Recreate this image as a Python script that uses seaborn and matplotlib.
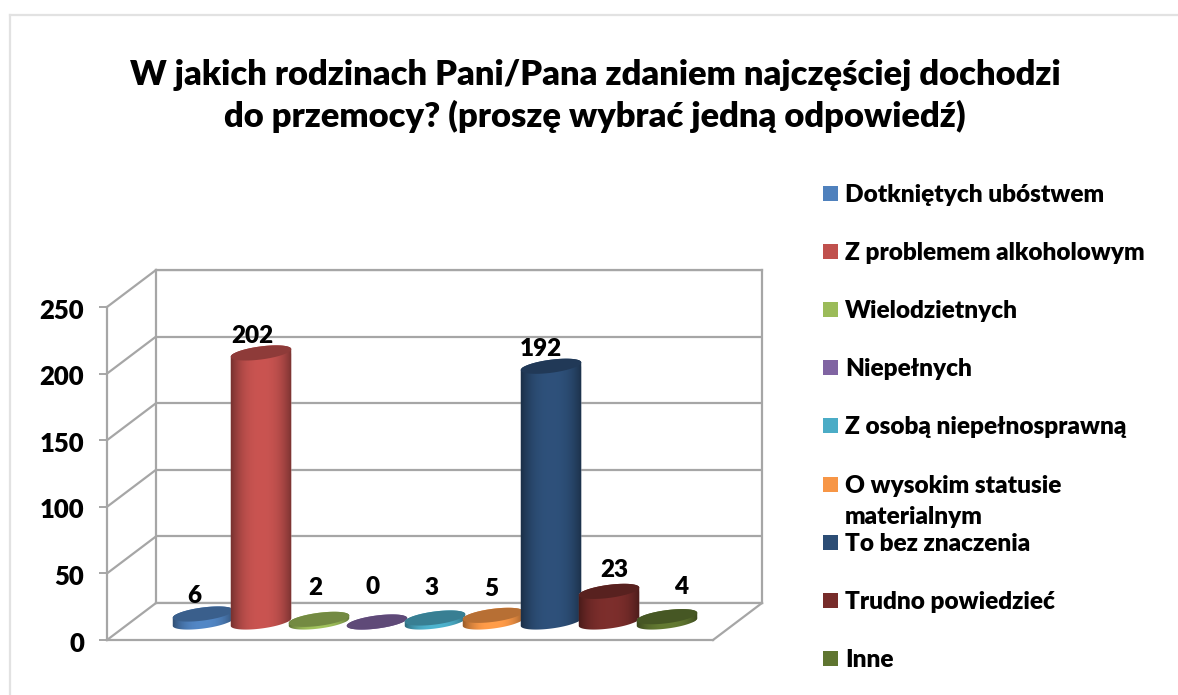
import numpy as np
import pandas as pd
import matplotlib
matplotlib.use("Agg")
import matplotlib.pyplot as plt
from matplotlib.lines import Line2D
from matplotlib.patches import Rectangle, Polygon
from matplotlib.path import Path
from matplotlib.transforms import Affine2D, IdentityTransform
from matplotlib.colors import to_rgb
import seaborn as sns

TITLE = "W jakich rodzinach Pani/Pana zdaniem najczęściej dochodzi\ndo przemocy? (proszę wybrać jedną odpowiedź)"
categories = ["Dotkniętych ubóstwem", "Z problemem alkoholowym", "Wielodzietnych", "Niepełnych",
              "Z osobą niepełnosprawną", "O wysokim statusie\nmaterialnym", "To bez znaczenia",
              "Trudno powiedzieć", "Inne"]
values = [6, 202, 2, 0, 3, 5, 192, 23, 4]
y_ticks = [0, 50, 100, 150, 200, 250]
colors = ["#4F81BD", "#C0504D", "#9BBB59", "#8064A2", "#4BACC6", "#F79646", "#2C4D75", "#772C2A", "#5F7530"]

W, H = 1178, 695
GRID = "#a6a6a6"
sns.set_theme(style="white")
plt.rcParams["font.family"] = ["Lato", "DejaVu Sans"]
plt.rcParams["font.weight"] = "bold"

fig = plt.figure(figsize=(W / 100, H / 100), dpi=100, facecolor="white")
pix = Affine2D().scale(1 / W, -1 / H).translate(0, 1) + fig.transFigure


def make_axes(x0, x1, y_top, y_bottom, z):
    return fig.add_axes([x0 / W, 1 - y_bottom / H, (x1 - x0) / W, (y_bottom - y_top) / H], zorder=z)


def pixel_line(xs, ys, color=GRID, lw=1.6):
    fig.add_artist(Line2D(xs, ys, transform=pix, color=color, lw=lw, solid_capstyle="projecting"))


# outer frame
pixel_line([10, 1178], [15, 15], "#e2e2e2", 1.6)
pixel_line([10, 10], [15, 695], "#e2e2e2", 1.6)

# back wall
ax_back = make_axes(156, 762, 270, 603, 0)
ax_back.set_xlim(0, 1)
ax_back.set_ylim(0, 250)
ax_back.set_xticks([])
ax_back.set_yticks(y_ticks)
ax_back.set_yticklabels([])
ax_back.tick_params(left=False)
ax_back.grid(axis="y", color=GRID, lw=1.6)
for s in ax_back.spines.values():
    s.set_color(GRID)
    s.set_linewidth(1.6)

# front axis with ticks
ax_front = make_axes(107, 713, 307, 640, 1)
ax_front.patch.set_visible(False)
ax_front.set_xlim(0, 1)
ax_front.set_ylim(0, 250)
ax_front.set_xticks([])
ax_front.set_yticks(y_ticks)
ax_front.tick_params(axis="y", left=True, length=5.5, width=1.4, color=GRID, pad=11, labelsize=18.5)
for lab in ax_front.get_yticklabels():
    lab.set_fontweight("heavy")
    lab.set_color("black")
    lab.set_transform(lab.get_transform() + Affine2D().translate(0, -1.5))
sns.despine(ax=ax_front, top=True, right=True)
for s in ("left", "bottom"):
    ax_front.spines[s].set_color(GRID)
    ax_front.spines[s].set_linewidth(1.6)

# side wall and floor edges
for i in range(len(y_ticks)):
    yf = 640 - i * 66.6
    pixel_line([107, 156], [yf, yf - 37])
pixel_line([713, 762], [640, 603])

# cylinders
ax = make_axes(131.5, 737.5, 289, 622, 3)
df = pd.DataFrame({"kategoria": categories, "liczba": values})
sns.barplot(data=df, x="kategoria", y="liczba", hue="kategoria", order=categories, hue_order=categories,
            palette=colors, width=60 / 58, dodge=False, legend=False, ax=ax)
XLIM = (-71.5 / 58, 8 + 70.5 / 58)
YLIM = (0, 250)
ax.set_xlim(*XLIM)
ax.set_ylim(*YLIM)
ax.axis("off")

A, B, TILT = 30.5, 6.5, np.deg2rad(7.5)


def half(cx, cy, start, stop):
    t = np.deg2rad(np.linspace(start, stop, 60))
    ex, ey = A * np.cos(t), B * np.sin(t)
    return np.column_stack([cx + ex * np.cos(TILT) - ey * np.sin(TILT),
                            cy + ex * np.sin(TILT) + ey * np.cos(TILT)])


u = np.linspace(-1, 1, 121)
shade = 1.05 - 0.50 * np.abs(u) ** 2.5
# label offsets in pixels from the cylinder's top centre (dx, dy upward)
label_offsets = [(-9, 18.5), (-9, 17), (-4, 31.5), (-4, 34.5), (-4, 30.5), (-2, 26.5), (-10, 17), (5, 21.5), (14, 29.5)]

for i, (bar, col, val) in enumerate(zip(ax.patches, colors, values)):
    xc = bar.get_x() + bar.get_width() / 2
    cx, cy0 = ax.transData.transform((xc, 0))
    _, cy1 = ax.transData.transform((xc, bar.get_height()))
    outline = np.vstack([half(cx, cy0, 180, 360), half(cx, cy1, 0, 180)])
    clip = Path(np.vstack([outline, outline[:1]]), closed=True)
    z = 2 + i * 3
    bar.set_zorder(z)
    bar.set_clip_box(fig.bbox)
    bar.set_clip_path(clip, IdentityTransform())
    rgb = np.array(to_rgb(col))
    img = np.clip(shade[None, :, None] * rgb[None, None, :], 0, 1)
    im = ax.imshow(img, extent=(xc - 0.56, xc + 0.56, -12, bar.get_height() + 12), aspect="auto",
                   interpolation="bilinear", zorder=z + 0.5)
    im.set_clip_box(fig.bbox)
    im.set_clip_path(clip, IdentityTransform())
    ax.add_patch(Polygon(half(cx, cy1, 0, 360), closed=True, transform=IdentityTransform(),
                         facecolor=rgb * 0.74, edgecolor="none", zorder=z + 1, clip_on=False))
    dx, dy = label_offsets[i]
    ax.annotate(str(val), xy=(xc, bar.get_height()), xytext=(dx, dy), textcoords="offset pixels",
                ha="center", va="center", fontsize=17.5, fontweight="heavy", color="black",
                zorder=100, annotation_clip=False)
ax.set_xlim(*XLIM)
ax.set_ylim(*YLIM)

# title
fig.text(595 / W, 1 - 96 / H, TITLE, ha="center", va="center", fontsize=24.8, fontweight="heavy",
         color="black", linespacing=1.32)

# legend
legend_y = [193, 251, 309, 367, 425, 484, 542, 600, 658]
for name, col, ly in zip(categories, colors, legend_y):
    fig.add_artist(Rectangle((823, ly - 7.5), 15, 15, transform=pix, facecolor=col, edgecolor="none"))
    fig.text(845 / W, 1 - (ly - 9) / H, name, ha="left", va="top", fontsize=17.6, fontweight="heavy",
             color="black", linespacing=1.5)

fig.savefig("out.png", dpi=100, facecolor="white")
